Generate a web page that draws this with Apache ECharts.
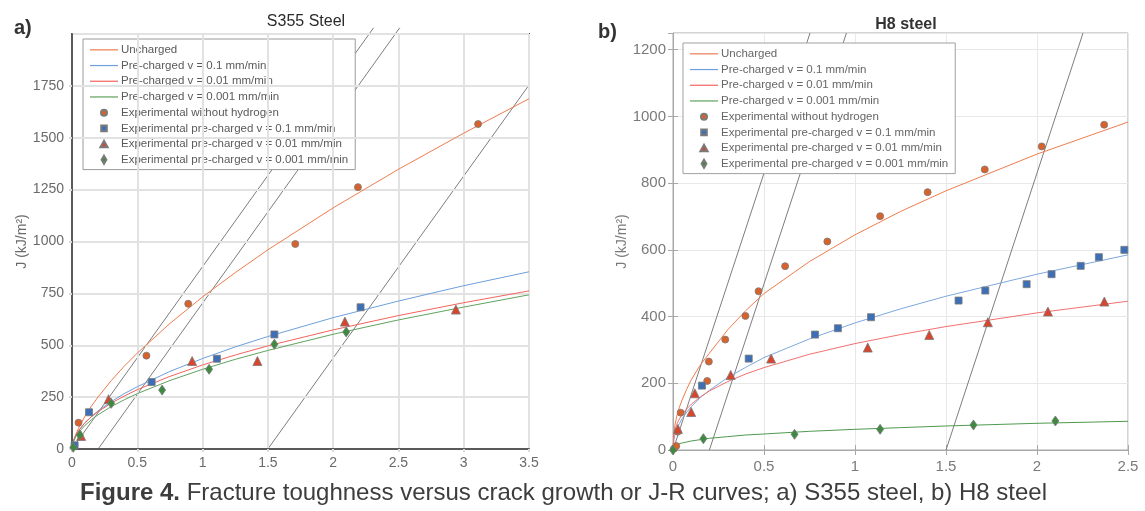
<!DOCTYPE html>
<html><head><meta charset="utf-8">
<script src="https://cdn.jsdelivr.net/npm/echarts@6/dist/echarts.min.js"></script>
<style>html,body{margin:0;padding:0;background:#fff;}#c{width:1145px;height:511px;}</style>
</head><body><div id="c"></div>
<script>
// ---------- names ----------
const legendNames = ['Uncharged','Pre-charged v = 0.1 mm/min','Pre-charged v = 0.01 mm/min','Pre-charged v = 0.001 mm/min',
  'Experimental without hydrogen','Experimental pre-charged v = 0.1 mm/min','Experimental pre-charged v = 0.01 mm/min','Experimental pre-charged v = 0.001 mm/min'];

// ---------- (a) S355 steel ----------
const s355CurveX      = [0, 0.01, 0.03, 0.05, 0.1, 0.15, 0.2, 0.3, 0.4, 0.5, 0.75, 1, 1.25, 1.5, 2, 2.5, 3, 3.5];
const s355Uncharged   = [0, 34, 71, 100, 159, 208, 251, 329, 399, 462, 605, 733, 850, 960, 1162, 1348, 1522, 1688];
const s355Pre01       = [0, 37, 66, 87, 127, 157, 184, 228, 267, 300, 374, 436, 492, 542, 633, 713, 787, 854];
const s355Pre001      = [0, 40, 69, 89, 127, 156, 180, 221, 255, 286, 350, 405, 453, 497, 574, 643, 705, 762];
const s355Pre0001     = [0, 34, 61, 79, 114, 142, 165, 204, 237, 267, 330, 384, 432, 475, 553, 622, 684, 743];

const s355ExpNoH_x    = [0.05, 0.57, 0.89, 1.71, 2.19, 3.11];
const s355ExpNoH_J    = [127, 450, 700, 988, 1262, 1566];
const s355Exp01_x     = [0.02, 0.13, 0.61, 1.11, 1.55, 2.21];
const s355Exp01_J     = [18, 177, 323, 435, 552, 683];
const s355Exp001_x    = [0.07, 0.28, 0.92, 1.42, 2.09, 2.94];
const s355Exp001_J    = [63, 240, 424, 424, 614, 672];
const s355Exp0001_x   = [0.01, 0.06, 0.30, 0.69, 1.05, 1.55, 2.10];
const s355Exp0001_J   = [8, 67, 220, 284, 384, 505, 564];

const s355Lines = [[[0, 0], [2.31, 2030]], [[0.2, 0], [2.51, 2030]], [[1.5, 0], [3.5, 1754]]];

// ---------- (b) H8 steel ----------
const h8CurveX        = [0, 0.005, 0.01, 0.02, 0.035, 0.05, 0.075, 0.1, 0.15, 0.2, 0.3, 0.4, 0.5, 0.75, 1, 1.25, 1.5, 2, 2.5];
const h8Uncharged     = [0, 50, 72, 100, 128, 150, 182, 210, 255, 290, 360, 418, 469, 565, 645, 715, 777, 887, 983];
const h8Pre01         = [0, 32, 44, 61, 79, 94, 113, 130, 157, 179, 217, 248, 277, 333, 381, 423, 461, 527, 585];
const h8Pre001        = [0, 46, 59, 76, 93, 106, 123, 137, 159, 177, 205, 228, 247, 287, 319, 346, 370, 411, 446];
const h8Pre0001       = [0, 9, 12, 15, 19, 21, 24, 27, 31, 35, 40, 45, 48, 56, 62, 67, 72, 80, 86];

const h8ExpNoH_x      = [0.005, 0.018, 0.026, 0.042, 0.188, 0.197, 0.287, 0.398, 0.47, 0.616, 0.848, 1.138, 1.399, 1.713, 2.026, 2.369];
const h8ExpNoH_J      = [4, 12, 55, 112, 207, 265, 331, 402, 476, 551, 625, 701, 773, 841, 910, 975];
const h8Exp01_x       = [0.159, 0.416, 0.78, 0.906, 1.088, 1.569, 1.716, 1.943, 2.08, 2.24, 2.34, 2.48];
const h8Exp01_J       = [193, 274, 346, 365, 398, 448, 478, 497, 527, 552, 578, 600];
const h8Exp001_x      = [0.027, 0.1, 0.12, 0.317, 0.539, 1.07, 1.408, 1.73, 2.06, 2.37];
const h8Exp001_J      = [63, 114, 170, 225, 274, 307, 345, 383, 415, 445];
const h8Exp0001_x     = [0.0, 0.167, 0.668, 1.138, 1.651, 2.101];
const h8Exp0001_J     = [0, 34, 47, 62, 75, 87];

const h8Lines = [[[0, 0], [0.753, 1250]], [[0.2, 0], [0.953, 1250]], [[1.5, 0], [2.253, 1250]]];

// ---------- helpers ----------
const zip = (xs, ys) => xs.map((x, i) => [x, ys[i]]);
const FONT = 'Liberation Sans, Arial, sans-serif';
const fmt = v => String(v);

const lineColorsA = ['#EE7C4E', '#6E9FDC', '#F2645E', '#5FA35F'];
const lineColorsB = ['#EE7C4E', '#7EA8DD', '#F27070', '#4F9A4F'];
const mk = [
  {symbol: 'circle', size: 7, color: '#D9622B'},
  {symbol: 'rect', size: 7, color: '#3C6FB6'},
  {symbol: 'triangle', size: 9, color: '#D8452C'},
  {symbol: 'diamond', size: [7, 10], color: '#3E8A3E'}
];
// legend icons (28 x 8 box)
const iconLine = 'path://M0,0M28,8M0,3.4L28,3.4L28,4.6L0,4.6Z';
const legendIcons = [iconLine, iconLine, iconLine, iconLine,
  'path://M0,0M28,8M14,1A3,3 0 1,1 13.99,1Z',
  'path://M0,0M28,8M11.2,1.2L16.8,1.2L16.8,6.8L11.2,6.8Z',
  'path://M0,0M28,8M14,0.8L17.6,7.2L10.4,7.2Z',
  'path://M0,0M28,8M14,0L16.4,4L14,8L11.6,4Z'];

function build(gi, curveX, curves, exps, lines, colors, gLineZ, dataZ) {
  const out = [];
  lines.forEach(l => out.push({
    type: 'line', name: 'limit', xAxisIndex: gi, yAxisIndex: gi, data: l, clip: false,
    symbol: 'none', silent: true, z: gLineZ, lineStyle: {color: '#7d7d7d', width: 1}
  }));
  curves.forEach((c, i) => out.push({
    type: 'line', name: legendNames[i], xAxisIndex: gi, yAxisIndex: gi, data: zip(curveX, c),
    symbol: 'none', smooth: false, z: dataZ,
    lineStyle: {color: colors[i], width: 1}, itemStyle: {color: colors[i]}
  }));
  exps.forEach((e, i) => out.push({
    type: 'scatter', name: legendNames[4 + i], xAxisIndex: gi, yAxisIndex: gi, data: zip(e[0], e[1]),
    symbol: mk[i].symbol, symbolSize: mk[i].size, z: dataZ + 1,
    itemStyle: {color: mk[i].color, borderColor: '#7a7a7a', borderWidth: 0.8, opacity: 1}
  }));
  return out;
}

const seriesA = build(0, s355CurveX, [s355Uncharged, s355Pre01, s355Pre001, s355Pre0001],
  [[s355ExpNoH_x, s355ExpNoH_J], [s355Exp01_x, s355Exp01_J], [s355Exp001_x, s355Exp001_J], [s355Exp0001_x, s355Exp0001_J]],
  s355Lines, lineColorsA, 1, 4);
const seriesB = build(1, h8CurveX, [h8Uncharged, h8Pre01, h8Pre001, h8Pre0001],
  [[h8ExpNoH_x, h8ExpNoH_J], [h8Exp01_x, h8Exp01_J], [h8Exp001_x, h8Exp001_J], [h8Exp0001_x, h8Exp0001_J]],
  h8Lines, lineColorsB, 2, 6);

const legendData = legendNames.map((n, i) => ({name: n, icon: legendIcons[i]}));
const legendBase = {
  orient: 'vertical', data: legendData, itemWidth: 28, itemHeight: 8, itemGap: 2,
  symbolKeepAspect: true,
  backgroundColor: '#ffffff', borderWidth: 1, borderRadius: 0, padding: [4, 7, 3, 6],
  textStyle: {fontFamily: FONT, fontSize: 11.5, lineHeight: 13.7, padding: [0, 0, 0, -2]},
  selectedMode: false
};

const option = {
  animation: false,
  backgroundColor: '#fff',
  title: [
    {text: 'S355 Steel', left: 301, top: 9, textAlign: 'center',
     textStyle: {fontFamily: FONT, fontSize: 16, fontWeight: 'normal', color: '#2a2a2a'}},
    {text: 'H8 steel', left: 901, top: 12, textAlign: 'center',
     textStyle: {fontFamily: FONT, fontSize: 16, fontWeight: 'bold', color: '#333'}}
  ],
  grid: [
    {left: 72, top: 34, width: 457, height: 415, show: true, borderColor: '#5a5a5a', borderWidth: 2, backgroundColor: 'transparent'},
    {left: 673, top: 33, width: 455, height: 417, show: true, borderColor: '#a8a8a8', borderWidth: 1, backgroundColor: 'transparent'}
  ],
  legend: [
    Object.assign({}, legendBase, {left: 83, top: 39, z: 2, borderColor: '#9a9a9a',
      textStyle: Object.assign({}, legendBase.textStyle, {color: '#5a5a5a'})}),
    Object.assign({}, legendBase, {left: 683, top: 43, z: 5, borderColor: '#a0a0a0',
      textStyle: Object.assign({}, legendBase.textStyle, {color: '#666'})})
  ],
  xAxis: [
    {gridIndex: 0, type: 'value', min: 0, max: 3.5, interval: 0.5, z: 3,
     axisLine: {show: true, onZero: false, lineStyle: {color: '#5a5a5a', width: 2}},
     axisTick: {show: true, inside: false, length: 3, lineStyle: {color: '#dcdcdc', width: 2}},
     axisLabel: {fontFamily: FONT, fontSize: 14, color: '#6a6a6a', margin: 7, formatter: fmt},
     splitLine: {show: true, lineStyle: {color: '#e2e2e2', width: 2}}},
    {gridIndex: 1, type: 'value', min: 0, max: 2.5, interval: 0.5,
     axisLine: {show: true, onZero: false, lineStyle: {color: '#a8a8a8', width: 1}},
     axisTick: {show: true, inside: true, length: 5, lineStyle: {color: '#a8a8a8'}},
     axisLabel: {fontFamily: FONT, fontSize: 15, color: '#7a7a7a', margin: 9, formatter: fmt},
     splitLine: {show: true, lineStyle: {color: '#e8e8e8', width: 1}}},
    {gridIndex: 1, type: 'value', position: 'top', min: 0, max: 2.5, interval: 0.5,
     axisLine: {show: false}, axisLabel: {show: false}, splitLine: {show: false},
     axisTick: {show: true, inside: true, length: 5, lineStyle: {color: '#a8a8a8'}}}
  ],
  yAxis: [
    {gridIndex: 0, type: 'value', min: 0, max: 2000, interval: 250, z: 3,
     name: 'J (kJ/m²)', nameLocation: 'middle', nameGap: 36,
     nameTextStyle: {fontFamily: FONT, fontSize: 14, color: '#6a6a6a'},
     axisLine: {show: true, onZero: false, lineStyle: {color: '#5a5a5a', width: 2}},
     axisTick: {show: true, inside: false, length: 3, lineStyle: {color: '#dcdcdc', width: 2}},
     axisLabel: {fontFamily: FONT, fontSize: 14, color: '#6a6a6a', margin: 8, showMaxLabel: false, formatter: fmt},
     splitLine: {show: true, lineStyle: {color: '#e2e2e2', width: 2}}},
    {gridIndex: 1, type: 'value', min: 0, max: 1250, interval: 200,
     name: 'J (kJ/m²)', nameLocation: 'middle', nameGap: 37,
     nameTextStyle: {fontFamily: FONT, fontSize: 14, color: '#7a7a7a'},
     axisLine: {show: true, onZero: false, lineStyle: {color: '#a8a8a8', width: 1}},
     axisTick: {show: true, inside: true, length: 5, lineStyle: {color: '#a8a8a8'}},
     axisLabel: {fontFamily: FONT, fontSize: 15, color: '#7a7a7a', margin: 7, showMaxLabel: false, formatter: fmt},
     splitLine: {show: true, lineStyle: {color: '#e8e8e8', width: 1}}},
    {gridIndex: 1, type: 'value', position: 'right', min: 0, max: 1250, interval: 200,
     axisLine: {show: false}, axisLabel: {show: false}, splitLine: {show: false},
     axisTick: {show: true, inside: true, length: 5, lineStyle: {color: '#a8a8a8'}}}
  ],
  graphic: [
    {type: 'text', left: 14, top: 18, style: {text: 'a)', font: 'bold 20px ' + FONT, fill: '#333'}},
    {type: 'text', left: 598, top: 22, style: {text: 'b)', font: 'bold 20px ' + FONT, fill: '#333'}},
    {type: 'text', left: 80, top: 481, style: {
      text: '{b|Figure 4.} Fracture toughness versus crack growth or J-R curves; a) S355 steel, b) H8 steel',
      font: '24px ' + FONT, fill: '#3d3d3d',
      rich: {b: {fontFamily: FONT, fontSize: 24, fontWeight: 'bold', fill: '#3d3d3d'}}
    }}
  ],
  series: seriesA.concat(seriesB)
};

const chart = echarts.init(document.getElementById('c'), null, {renderer: 'canvas'});
chart.setOption(option);
</script>
</body></html>
